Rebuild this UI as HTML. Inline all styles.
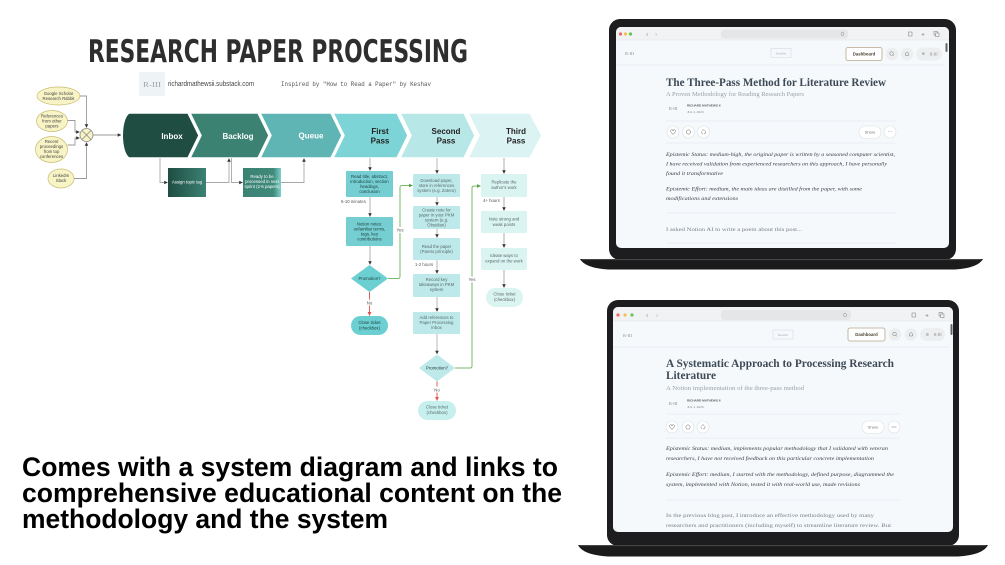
<!DOCTYPE html>
<html><head><meta charset="utf-8">
<style>
html,body{margin:0;padding:0;background:#fff;}
svg{display:block;}
text{font-family:"Liberation Sans",sans-serif;}
.s{font-family:"Liberation Serif",serif;}
.m{font-family:"Liberation Mono",monospace;}
.bt{font-size:4.3px;text-anchor:middle;}
.d{fill:#1e3c3c;}
.g{fill:#5a6a6a;}
.w{fill:#ffffff;}
.ch{font-size:8px;font-weight:bold;text-anchor:middle;}
.lb{font-size:4.3px;fill:#555;}
.it{font-family:"Liberation Serif",serif;font-style:italic;font-size:5.6px;fill:#3a3f44;}
.bd{font-family:"Liberation Serif",serif;font-size:5.6px;fill:#7a8086;}
</style></head><body>
<svg width="1005" height="565" viewBox="0 0 1005 565" xmlns="http://www.w3.org/2000/svg">
<defs>
<marker id="a" viewBox="0 0 6 6" refX="5.5" refY="3" markerWidth="3.6" markerHeight="3.6" markerUnits="userSpaceOnUse" orient="auto"><path d="M0,0 L6,3 L0,6 Z" fill="#333"/></marker>
<marker id="ag" viewBox="0 0 6 6" refX="5.5" refY="3" markerWidth="4" markerHeight="4" markerUnits="userSpaceOnUse" orient="auto"><path d="M0,0 L6,3 L0,6 Z" fill="#5aa04a"/></marker>
<marker id="ar" viewBox="0 0 6 6" refX="5.5" refY="3" markerWidth="4" markerHeight="4" markerUnits="userSpaceOnUse" orient="auto"><path d="M0,0 L6,3 L0,6 Z" fill="#e0504a"/></marker>
<linearGradient id="g1" x1="0" x2="1" y1="0" y2="0"><stop offset="0" stop-color="#1f4d42"/><stop offset="1" stop-color="#3b8273"/></linearGradient>
<linearGradient id="g2" x1="0" x2="1" y1="0" y2="0"><stop offset="0" stop-color="#3b8273"/><stop offset="0.8" stop-color="#3f8a7b"/><stop offset="1" stop-color="#7fd0cc"/></linearGradient>
<clipPath id="c1"><rect x="616" y="27" width="333" height="221" rx="5"/></clipPath>
<clipPath id="c2"><rect x="613" y="307" width="340" height="225" rx="5"/></clipPath>
</defs>

<!-- Title -->
<text x="88" y="62" font-size="31" font-weight="bold" fill="#2e2e2e" textLength="380" lengthAdjust="spacingAndGlyphs" style="font-family:'DejaVu Sans',sans-serif">RESEARCH PAPER PROCESSING</text>

<rect x="139" y="72" width="26" height="24" fill="#eef3f6"/>
<text x="152" y="87" font-size="7" fill="#9aa4ad" text-anchor="middle" class="s" textLength="18" lengthAdjust="spacingAndGlyphs">R-III</text>
<text x="168" y="86" font-size="7" fill="#444" textLength="86" lengthAdjust="spacingAndGlyphs">richardmathewsii.substack.com</text>
<text x="281" y="86" font-size="6.2" fill="#555" class="m" textLength="150" lengthAdjust="spacingAndGlyphs">Inspired by "How to Read a Paper" by Keshav</text>

<!-- inputs -->
<g fill="#f8f4c6" stroke="#c8bc70" stroke-width="0.7">
<ellipse cx="58.5" cy="96" rx="21.5" ry="9"/>
<ellipse cx="52" cy="121" rx="15.5" ry="10.5"/>
<ellipse cx="51.5" cy="149.5" rx="16" ry="13"/>
<ellipse cx="61" cy="178.5" rx="13" ry="9.5"/>
</g>
<g class="bt" fill="#444">
<text x="58.5" y="95">Google Scholar</text><text x="58.5" y="100">Research Rabbit</text>
<text x="52" y="117.5">References</text><text x="52" y="122.5">from other</text><text x="52" y="127.5">papers</text>
<text x="51.5" y="143">Recent</text><text x="51.5" y="148">proceedings</text><text x="51.5" y="153">from top</text><text x="51.5" y="158">conferences</text>
<text x="61" y="177">LinkedIn</text><text x="61" y="182">Slack</text>
</g>
<g fill="none" stroke="#9a9a9a" stroke-width="0.9">
<path d="M80,96 H86.5 V127.5" marker-end="url(#a)"/>
<path d="M67.5,120.5 H75 V132 H79.5" marker-end="url(#a)"/>
<path d="M67.5,145 H75 V138 H79.5" marker-end="url(#a)"/>
<path d="M74,178.5 H86.5 V142.5" marker-end="url(#a)"/>
<path d="M93,135 H121" marker-end="url(#a)"/>
</g>
<circle cx="86.5" cy="135" r="6.5" fill="#f8f4c6" stroke="#888" stroke-width="0.8"/>
<path d="M82,130.5 L91,139.5 M91,130.5 L82,139.5" stroke="#888" stroke-width="0.8"/>

<!-- chevrons -->
<g stroke="#fff" stroke-width="1.5" stroke-linejoin="round">
<path d="M468,113 H530 L542,135.5 L530,158 H468 L479,135.5 Z" fill="#dcf3f3"/>
<path d="M400,113 H464 L475,135.5 L464,158 H400 L411,135.5 Z" fill="#b8e7e8"/>
<path d="M333,113 H397 L408,135.5 L397,158 H333 L344,135.5 Z" fill="#7dd4d6"/>
<path d="M260,113 H331 L342,135.5 L331,158 H260 L271,135.5 Z" fill="#5fb4b4"/>
<path d="M190,113 H258 L269,135.5 L258,158 H190 L201,135.5 Z" fill="#3b8273"/>
<path d="M129,113 H188 L199,135.5 L188,158 H129 C120,152 120,119 129,113 Z" fill="#1f4d42"/>
</g>
<text x="172" y="139" class="ch w">Inbox</text>
<text x="238" y="139" class="ch w">Backlog</text>
<text x="311" y="138.5" class="ch w">Queue</text>
<g class="ch" fill="#222">
<text x="380" y="134">First</text><text x="380" y="143.5">Pass</text>
<text x="446" y="134">Second</text><text x="446" y="143.5">Pass</text>
<text x="516" y="134">Third</text><text x="516" y="143.5">Pass</text>
</g>

<!-- inbox/backlog sub boxes -->
<g fill="none" stroke="#a8a8a8" stroke-width="0.9">
<path d="M160,158 V182.5 H167.5" marker-end="url(#a)"/>
<path d="M206,182.5 H229 V158.5" marker-end="url(#a)"/>
<path d="M231.5,158 V182.5 H242.5" marker-end="url(#a)"/>
<path d="M281,182.5 H304 V158.5" marker-end="url(#a)"/>
</g>
<rect x="168" y="168" width="38" height="29" fill="url(#g1)"/>
<rect x="243" y="168" width="38" height="29" fill="url(#g2)"/>
<g class="bt w">
<text x="187" y="183.5">Assign topic tag</text>
<text x="262" y="178">Ready to be</text><text x="262" y="183">processed in next</text><text x="262" y="188">sprint (2-5 papers)</text>
</g>

<!-- First pass column -->
<g fill="none" stroke="#b0b0b0" stroke-width="1">
<path d="M370,158 V170.5" marker-end="url(#a)"/>
<path d="M370,197 V216.5" marker-end="url(#a)"/>
<path d="M370,246 V264.5" marker-end="url(#a)"/>
</g>
<rect x="346" y="171" width="47" height="26" rx="1" fill="#75cfd2"/>
<rect x="346" y="217" width="47" height="29" rx="1" fill="#75cfd2"/>
<path d="M369.5,265 L388,278.5 L369.5,292 L351,278.5 Z" fill="#6ccfd1"/>
<rect x="351" y="316" width="37" height="19" rx="9.5" fill="#6ccfd1"/>
<g class="bt d">
<text x="369.5" y="178">Read title, abstract,</text><text x="369.5" y="183">introduction, section</text><text x="369.5" y="188">headings,</text><text x="369.5" y="193">conclusion</text>
<text x="369.5" y="225.5">Notion notes:</text><text x="369.5" y="230.5">unfamiliar terms,</text><text x="369.5" y="235.5">tags, key</text><text x="369.5" y="240.5">contributions</text>
<text x="369.5" y="280">Promotion?</text>
<text x="369.5" y="324">Close ticket</text><text x="369.5" y="329.3">(checkbox)</text>
</g>
<text x="341" y="203" class="lb">5-10 minutes</text>
<path d="M388,278.5 H398 Q400,278.5 400,276.5 V187.5 Q400,185.5 402,185.5 H412.5" fill="none" stroke="#7ab86a" stroke-width="1" marker-end="url(#ag)"/>
<rect x="395.5" y="227" width="9" height="6" fill="#fff"/>
<text x="400" y="231.5" class="lb" text-anchor="middle">Yes</text>
<path d="M369.5,292 V315.5" stroke="#e0605a" stroke-width="1" marker-end="url(#ar)"/>
<rect x="365.5" y="299.5" width="8" height="6" fill="#fff"/>
<text x="369.5" y="304.5" class="lb" text-anchor="middle">No</text>

<!-- Second pass column -->
<g fill="none" stroke="#b8b8b8" stroke-width="1">
<path d="M437,158 V173.5" marker-end="url(#a)"/>
<path d="M437,197 V205.5" marker-end="url(#a)"/>
<path d="M437,229 V237.5" marker-end="url(#a)"/>
<path d="M437,260 V273.5" marker-end="url(#a)"/>
<path d="M437,297 V311.5" marker-end="url(#a)"/>
<path d="M437,334 V354" marker-end="url(#a)"/>
</g>
<g fill="#bde9ea">
<rect x="413" y="174" width="47" height="23" rx="1"/>
<rect x="413" y="206" width="47" height="23" rx="1"/>
<rect x="413" y="238" width="47" height="22" rx="1"/>
<rect x="413" y="274" width="47" height="23" rx="1"/>
<rect x="413" y="312" width="47" height="22" rx="1"/>
<path d="M437,354.5 L455,368 L437,381.5 L419,368 Z"/>
</g>
<rect x="418" y="401" width="38" height="19" rx="9.5" fill="#c5f0ee"/>
<g class="bt g">
<text x="436.5" y="182">Download paper,</text><text x="436.5" y="187">store in references</text><text x="436.5" y="192">system (e.g. Zotero)</text>
<text x="436.5" y="211.5">Create note for</text><text x="436.5" y="216.5">paper in your PKM</text><text x="436.5" y="221.5">system (e.g.</text><text x="436.5" y="226.5">Obsidian)</text>
<text x="436.5" y="248">Read the paper</text><text x="436.5" y="253">(Pareto principle)</text>
<text x="436.5" y="281">Record key</text><text x="436.5" y="286">takeaways in PKM</text><text x="436.5" y="291">system</text>
<text x="436.5" y="319">Add references to</text><text x="436.5" y="324">Paper Processing</text><text x="436.5" y="329">Inbox</text>
<text x="437" y="369.5" fill="#2a3a3a">Promotion?</text>
<text x="437" y="408.5">Close ticket</text><text x="437" y="414">(checkbox)</text>
</g>
<text x="415" y="266" class="lb">1-2 hours</text>
<path d="M455,368 H470 Q472,368 472,366 V188 Q472,186 474,186 H480.5" fill="none" stroke="#7ab86a" stroke-width="1" marker-end="url(#ag)"/>
<rect x="467.5" y="276.5" width="9" height="6" fill="#fff"/>
<text x="472" y="281" class="lb" text-anchor="middle">Yes</text>
<path d="M437,381.5 V400.5" stroke="#e0605a" stroke-width="1" marker-end="url(#ar)"/>
<rect x="433" y="386.5" width="8" height="6" fill="#fff"/>
<text x="437" y="391.5" class="lb" text-anchor="middle">No</text>

<!-- Third pass column -->
<g fill="none" stroke="#c4c4c4" stroke-width="1.4">
<path d="M504,158 V173.5" marker-end="url(#a)"/>
<path d="M504,197 V210.5" marker-end="url(#a)"/>
<path d="M504,233 V247.5" marker-end="url(#a)"/>
<path d="M504,270 V287.5" marker-end="url(#a)"/>
</g>
<g fill="#daf4f2">
<rect x="481" y="174" width="46" height="23" rx="1"/>
<rect x="481" y="211" width="46" height="22" rx="1"/>
<rect x="481" y="248" width="46" height="22" rx="1"/>
<rect x="486" y="288" width="37" height="19" rx="9.5"/>
</g>
<g class="bt g">
<text x="504" y="183.5">Replicate the</text><text x="504" y="189">author's work</text>
<text x="504" y="220.5">Note strong and</text><text x="504" y="226">weak points</text>
<text x="504" y="257">Ideate ways to</text><text x="504" y="262.5">expand on the work</text>
<text x="504.5" y="295.5">Close ticket</text><text x="504.5" y="301">(checkbox)</text>
</g>
<text x="483" y="202" class="lb">4+ hours</text>

<!-- Bottom text -->
<g font-size="26.5" font-weight="bold" fill="#000">
<text x="22" y="476" textLength="536" lengthAdjust="spacingAndGlyphs">Comes with a system diagram and links to</text>
<text x="22" y="502" textLength="540" lengthAdjust="spacingAndGlyphs">comprehensive educational content on the</text>
<text x="22" y="528" textLength="366" lengthAdjust="spacingAndGlyphs">methodology and the system</text>
</g>

<!-- ===== Top laptop ===== -->
<path d="M580,259 H983 Q978,268 955,269.5 H608 Q585,268 580,259 Z" fill="#1b1b1b"/>
<rect x="609" y="19" width="347" height="241" rx="11" fill="#1d1d1f"/>
<line x1="582" y1="259.6" x2="981" y2="259.6" stroke="#4a4a4c" stroke-width="1"/>
<rect x="616" y="27" width="333" height="221" rx="5" fill="#f5f9fc"/>
<g clip-path="url(#c1)">
<rect x="616" y="27" width="333" height="13" fill="#f1f2f3"/>
<line x1="616" y1="40" x2="949" y2="40" stroke="#e2e4e6" stroke-width="0.6"/>
<circle cx="620.5" cy="34" r="1.6" fill="#ec6a5e"/><circle cx="625.5" cy="34" r="1.6" fill="#f4bf4f"/><circle cx="630.5" cy="34" r="1.6" fill="#61c554"/>
<text x="646" y="36.5" font-size="7" fill="#999">‹</text><text x="655" y="36.5" font-size="7" fill="#bbb">›</text>
<rect x="721" y="29.5" width="127" height="9" rx="3" fill="#e5e6e7"/>
<circle cx="842.5" cy="34" r="1.5" fill="none" stroke="#888" stroke-width="0.5"/>
<rect x="908.5" y="32" width="3.5" height="4" fill="none" stroke="#777" stroke-width="0.5"/>
<text x="923" y="36.5" font-size="6" fill="#777" text-anchor="middle">+</text>
<rect x="934" y="31.5" width="3.5" height="3.5" fill="none" stroke="#777" stroke-width="0.5"/><rect x="935.5" y="33" width="3.5" height="3.5" fill="#f1f2f3" stroke="#777" stroke-width="0.5"/>
<text x="625" y="55" font-size="4.5" fill="#8a9096" class="s">R-III</text>
<rect x="771" y="48.5" width="20" height="9" fill="none" stroke="#d2d6da" stroke-width="0.5"/>
<text x="781" y="54.5" font-size="3" fill="#aab0b6" text-anchor="middle">SlowMo</text>
<rect x="846" y="47.5" width="36" height="13" rx="2" fill="#fff" stroke="#b5a88a" stroke-width="0.8"/>
<text x="864" y="55.5" font-size="4.3" font-weight="bold" fill="#4a4030" text-anchor="middle">Dashboard</text>
<circle cx="892" cy="54" r="6.3" fill="#eceef0"/><circle cx="891.5" cy="53.5" r="1.8" fill="none" stroke="#777" stroke-width="0.5"/><path d="M892.8,54.8 L894,56" stroke="#777" stroke-width="0.5"/>
<circle cx="907" cy="54" r="6.3" fill="#eceef0"/><path d="M905.5,55.5 V53.5 Q907,50.5 908.5,53.5 V55.5 Z" fill="none" stroke="#777" stroke-width="0.5"/>
<rect x="916" y="47.5" width="26" height="13" rx="6.5" fill="#eceef0"/>
<text x="922" y="55.5" font-size="5" fill="#777">≡</text><text x="930" y="55.5" font-size="3.8" fill="#888" class="s">R-III</text>
<rect x="945.5" y="43" width="2" height="9" rx="1" fill="#666"/>
<line x1="616" y1="65" x2="945" y2="65" stroke="#e4e8eb" stroke-width="0.6"/>
<text x="666" y="86" class="s" font-size="11.5" font-weight="bold" fill="#3d4a56" textLength="220" lengthAdjust="spacingAndGlyphs">The Three-Pass Method for Literature Review</text>
<text x="666" y="96" class="s" font-size="5.8" fill="#9aa2a8" textLength="138" lengthAdjust="spacingAndGlyphs">A Proven Methodology for Reading Research Papers</text>
<text x="669" y="110" font-size="4.2" fill="#888" class="s">R-III</text>
<text x="687" y="106.5" font-size="3.1" font-weight="bold" fill="#555">RICHARD MATHEWS II</text>
<text x="687" y="113" font-size="3.1" fill="#888">JUL 1, 2023</text>
<line x1="666" y1="121" x2="897" y2="121" stroke="#e4e8eb" stroke-width="0.6"/>
<g fill="#fff" stroke="#dcdfe2" stroke-width="0.6">
<circle cx="673" cy="132" r="6"/><circle cx="688.5" cy="132" r="6"/><circle cx="703.5" cy="132" r="6"/>
<rect x="859" y="126" width="22" height="12.5" rx="6.25"/><circle cx="890" cy="132" r="6"/>
</g>
<path d="M673,134.5 L670.8,132 Q670,130 671.8,129.7 Q673,129.7 673,131 Q673,129.7 674.2,129.7 Q676,130 675.2,132 Z" fill="none" stroke="#666" stroke-width="0.5"/>
<circle cx="688.5" cy="132" r="2.1" fill="none" stroke="#666" stroke-width="0.5"/>
<circle cx="703.5" cy="132" r="2.1" fill="none" stroke="#666" stroke-width="0.5" stroke-dasharray="3 1"/>
<text x="870" y="133.5" font-size="4" fill="#777" text-anchor="middle">Share</text>
<text x="890" y="133" font-size="5" fill="#777" text-anchor="middle">···</text>
<line x1="666" y1="143" x2="897" y2="143" stroke="#e4e8eb" stroke-width="0.6"/>
<text x="666" y="156" class="it" textLength="229" lengthAdjust="spacingAndGlyphs">Epistemic Status: medium-high, the original paper is written by a seasoned computer scientist,</text>
<text x="666" y="165.5" class="it" textLength="221" lengthAdjust="spacingAndGlyphs">I have received validation from experienced researchers on this approach, I have personally</text>
<text x="666" y="175" class="it" textLength="57" lengthAdjust="spacingAndGlyphs">found it transformative</text>
<text x="666" y="190.5" class="it" textLength="196" lengthAdjust="spacingAndGlyphs">Epistemic Effort: medium, the main ideas are distilled from the paper, with some</text>
<text x="666" y="200" class="it" textLength="72" lengthAdjust="spacingAndGlyphs">modifications and extensions</text>
<line x1="666" y1="213" x2="897" y2="213" stroke="#e4e8eb" stroke-width="0.6"/>
<text x="666" y="231" class="bd" textLength="136" lengthAdjust="spacingAndGlyphs">I asked Notion AI to write a poem about this post...</text>
<line x1="666" y1="243" x2="897" y2="243" stroke="#e4e8eb" stroke-width="0.6"/>
</g>

<!-- ===== Bottom laptop ===== -->
<path d="M578,545 H988 Q983,555 958,556.5 H608 Q583,555 578,545 Z" fill="#1b1b1b"/>
<rect x="607" y="300" width="352" height="246" rx="11" fill="#1d1d1f"/>
<line x1="580" y1="545.6" x2="986" y2="545.6" stroke="#4a4a4c" stroke-width="1"/>
<rect x="613" y="307" width="340" height="225" rx="5" fill="#f5f9fc"/>
<g clip-path="url(#c2)">
<rect x="613" y="307" width="340" height="14" fill="#f1f2f3"/>
<line x1="613" y1="321" x2="953" y2="321" stroke="#e2e4e6" stroke-width="0.6"/>
<circle cx="618" cy="315" r="1.6" fill="#ec6a5e"/><circle cx="625" cy="315" r="1.6" fill="#f4bf4f"/><circle cx="632" cy="315" r="1.6" fill="#61c554"/>
<text x="646" y="317.5" font-size="7" fill="#999">‹</text><text x="656" y="317.5" font-size="7" fill="#bbb">›</text>
<rect x="721" y="310" width="130" height="10" rx="3" fill="#e5e6e7"/>
<circle cx="845" cy="315" r="1.5" fill="none" stroke="#888" stroke-width="0.5"/>
<rect x="912" y="313" width="3.5" height="4" fill="none" stroke="#777" stroke-width="0.5"/>
<text x="927" y="317.5" font-size="6" fill="#777" text-anchor="middle">+</text>
<rect x="939" y="312.5" width="3.5" height="3.5" fill="none" stroke="#777" stroke-width="0.5"/><rect x="940.5" y="314" width="3.5" height="3.5" fill="#f1f2f3" stroke="#777" stroke-width="0.5"/>
<text x="623" y="337" font-size="4.5" fill="#8a9096" class="s">R-III</text>
<rect x="773" y="330" width="20" height="9" fill="none" stroke="#d2d6da" stroke-width="0.5"/>
<text x="783" y="336" font-size="3" fill="#aab0b6" text-anchor="middle">SlowMo</text>
<rect x="848" y="328" width="37" height="13" rx="2" fill="#fff" stroke="#b5a88a" stroke-width="0.8"/>
<text x="866.5" y="336" font-size="4.3" font-weight="bold" fill="#4a4030" text-anchor="middle">Dashboard</text>
<circle cx="895" cy="334.5" r="6.3" fill="#eceef0"/><circle cx="894.5" cy="334" r="1.8" fill="none" stroke="#777" stroke-width="0.5"/><path d="M895.8,335.3 L897,336.5" stroke="#777" stroke-width="0.5"/>
<circle cx="911" cy="334.5" r="6.3" fill="#eceef0"/><path d="M909.5,336 V334 Q911,331 912.5,334 V336 Z" fill="none" stroke="#777" stroke-width="0.5"/>
<rect x="920" y="328" width="25" height="13" rx="6.5" fill="#eceef0"/>
<text x="926" y="336" font-size="5" fill="#777">≡</text><text x="934" y="336" font-size="3.8" fill="#888" class="s">R-III</text>
<rect x="950.5" y="324" width="2" height="11" rx="1" fill="#666"/>
<line x1="613" y1="347" x2="950" y2="347" stroke="#e4e8eb" stroke-width="0.6"/>
<text x="666" y="367" class="s" font-size="11.5" font-weight="bold" fill="#3d4a56" textLength="228" lengthAdjust="spacingAndGlyphs">A Systematic Approach to Processing Research</text>
<text x="666" y="379" class="s" font-size="11.5" font-weight="bold" fill="#3d4a56" textLength="50" lengthAdjust="spacingAndGlyphs">Literature</text>
<text x="666" y="390" class="s" font-size="5.8" fill="#9aa2a8" textLength="138" lengthAdjust="spacingAndGlyphs">A Notion implementation of the three-pass method</text>
<text x="669" y="405" font-size="4.2" fill="#888" class="s">R-III</text>
<text x="687" y="401.5" font-size="3.1" font-weight="bold" fill="#555">RICHARD MATHEWS II</text>
<text x="687" y="408" font-size="3.1" fill="#888">JUL 1, 2023</text>
<line x1="666" y1="414" x2="900" y2="414" stroke="#e4e8eb" stroke-width="0.6"/>
<g fill="#fff" stroke="#dcdfe2" stroke-width="0.6">
<circle cx="672" cy="427" r="6"/><circle cx="688" cy="427" r="6"/><circle cx="703" cy="427" r="6"/>
<rect x="862" y="421" width="22" height="12.5" rx="6.25"/><circle cx="894" cy="427" r="6"/>
</g>
<path d="M672,429.5 L669.8,427 Q669,425 670.8,424.7 Q672,424.7 672,426 Q672,424.7 673.2,424.7 Q675,425 674.2,427 Z" fill="none" stroke="#666" stroke-width="0.5"/>
<circle cx="688" cy="427" r="2.1" fill="none" stroke="#666" stroke-width="0.5"/>
<circle cx="703" cy="427" r="2.1" fill="none" stroke="#666" stroke-width="0.5" stroke-dasharray="3 1"/>
<text x="873" y="428.5" font-size="4" fill="#777" text-anchor="middle">Share</text>
<line x1="891.5" y1="427" x2="896.5" y2="427" stroke="#777" stroke-width="0.5"/>
<line x1="666" y1="438" x2="900" y2="438" stroke="#e4e8eb" stroke-width="0.6"/>
<text x="666" y="450" class="it" textLength="222" lengthAdjust="spacingAndGlyphs">Epistemic Status: medium, implements popular methodology that I validated with veteran</text>
<text x="666" y="460" class="it" textLength="208" lengthAdjust="spacingAndGlyphs">researchers, I have not received feedback on this particular concrete implementation</text>
<text x="666" y="476" class="it" textLength="228" lengthAdjust="spacingAndGlyphs">Epistemic Effort: medium, I started with the methodology, defined purpose, diagrammed the</text>
<text x="666" y="486" class="it" textLength="194" lengthAdjust="spacingAndGlyphs">system, implemented with Notion, tested it with real-world use, made revisions</text>
<line x1="666" y1="500" x2="900" y2="500" stroke="#e4e8eb" stroke-width="0.6"/>
<text x="666" y="517" class="bd" textLength="208" lengthAdjust="spacingAndGlyphs">In the previous blog post, I introduce an effective methodology used by many</text>
<text x="666" y="527" class="bd" textLength="225" lengthAdjust="spacingAndGlyphs">researchers and practitioners (including myself) to streamline literature review. But</text>
</g>
</svg>
</body></html>
